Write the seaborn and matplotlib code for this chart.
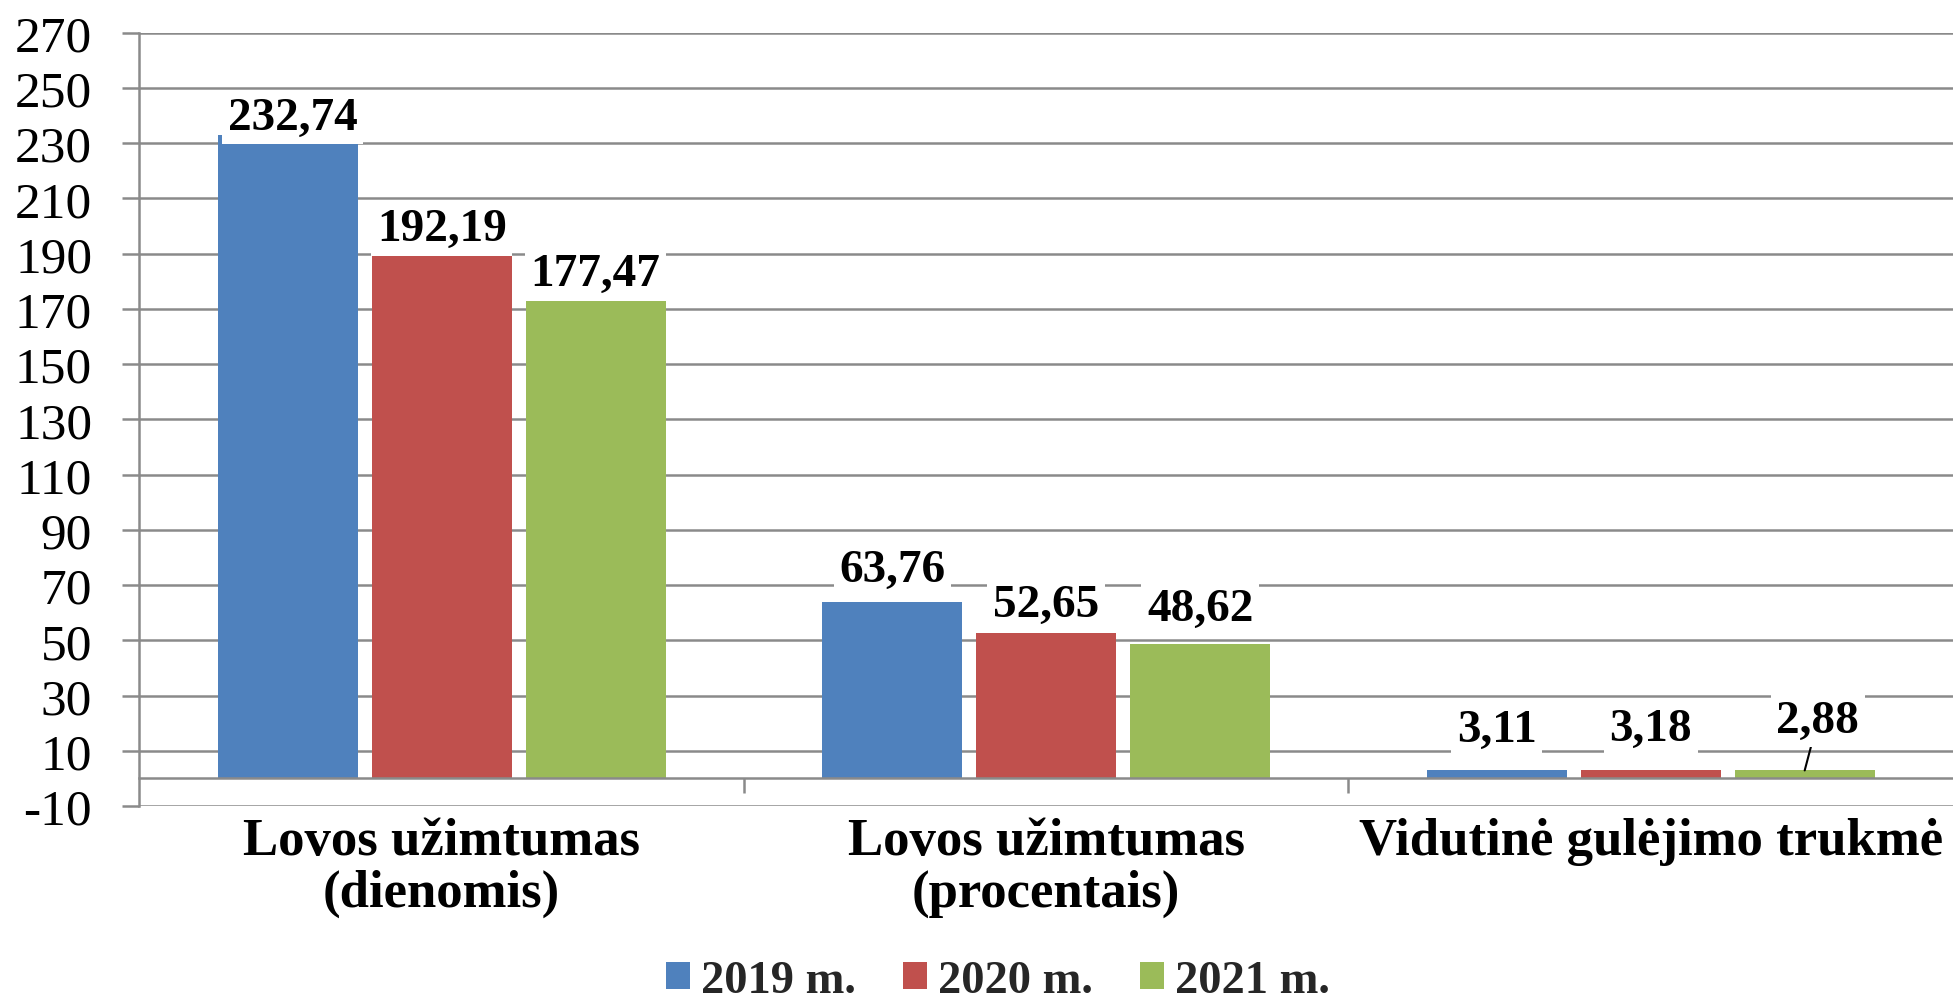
import matplotlib
matplotlib.use("Agg")
import matplotlib.pyplot as plt
import seaborn as sns
import pandas as pd

# ---- data ----
categories = ["Lovos užimtumas\n(dienomis)", "Lovos užimtumas\n(procentais)", "Vidutinė gulėjimo trukmė"]
years = ["2019 m.", "2020 m.", "2021 m."]
values_2019 = [232.74, 63.76, 3.11]
values_2020 = [192.19, 52.65, 3.18]
values_2021 = [177.47, 48.62, 2.88]
y_ticks = list(range(-10, 271, 20))

# ---- style ----
colors = ["#4F81BD", "#C0504D", "#9BBB59"]
grid_color = "#8a8a8a"
# label offsets in points (per year, per category)
label_dy = {"2019 m.": [12.7, 23.5, 29], "2020 m.": [13, 20, 29], "2021 m.": [10, 25.5, 36]}
label_dx = {"2019 m.": [3.5, 0, 0], "2020 m.": [0, 0, 0], "2021 m.": [0, 0, 9.5]}
leader = {("2021 m.", 2)}

rows = []
for yr, vals in zip(years, [values_2019, values_2020, values_2021]):
    for c, v in zip(categories, vals):
        rows.append({"category": c, "year": yr, "value": v})
df = pd.DataFrame(rows)

sns.set_theme(style="white")
plt.rcParams["font.family"] = ["Liberation Serif", "DejaVu Serif"]
plt.rcParams["axes.unicode_minus"] = False

fig = plt.figure(figsize=(19.53, 10.03), dpi=100)
ax = fig.add_axes([0.0714, 0.1954, 0.9286, 0.7712])

sns.barplot(data=df, x="category", y="value", hue="year", order=categories,
            hue_order=years, palette=colors, width=0.764, gap=0.09,
            errorbar=None, saturation=1, linewidth=0, ax=ax, zorder=2)

ax.set_xlim(-0.5, 2.5)
ax.set_ylim(-10, 270)
ax.set_yticks(y_ticks)
ax.grid(axis="y", color=grid_color, lw=1.8)
ax.grid(axis="x", visible=False)
ax.set_axisbelow(True)
ax.set_xlabel("")
ax.set_ylabel("")

for s in ["top", "right"]:
    ax.spines[s].set_visible(False)
ax.spines["left"].set_color(grid_color)
ax.spines["left"].set_linewidth(1.8)
ax.spines["bottom"].set_position(("data", 0))
ax.spines["bottom"].set_color(grid_color)
ax.spines["bottom"].set_linewidth(1.8)

ax.tick_params(axis="y", which="major", left=True, length=12, width=1.8,
               color=grid_color, pad=22, labelsize=37, direction="out", labelcolor="black")
ax.tick_params(axis="x", which="major", length=0, pad=28, labelsize=38, labelcolor="black")
ax.set_xticks([0.5, 1.5], minor=True)
ax.tick_params(axis="x", which="minor", bottom=True, length=11, width=1.8,
               color=grid_color, direction="out")
for lab in ax.get_xticklabels():
    lab.set_fontweight("bold")
    lab.set_linespacing(1.1)

# data labels
for cont, yr in zip(ax.containers, years):
    for i, p in enumerate(cont):
        v = p.get_height()
        x = p.get_x() + p.get_width() / 2
        txt = f"{v:.2f}".replace(".", ",")
        kw = {}
        if (yr, i) in leader:
            kw["arrowprops"] = dict(arrowstyle="-", color="black", lw=1.5,
                                    shrinkA=0, shrinkB=0)
        ax.annotate(txt, xy=(x, v), xytext=(label_dx[yr][i], label_dy[yr][i]),
                    textcoords="offset points", ha="center", va="center",
                    fontsize=34, fontweight="bold", color="black",
                    bbox=dict(boxstyle="square,pad=0.12", fc="white", ec="none"),
                    zorder=5, annotation_clip=False, **kw)

handles, labels = ax.get_legend_handles_labels()
if ax.get_legend() is not None:
    ax.get_legend().remove()
fig.legend(handles, labels, loc="center", bbox_to_anchor=(0.511, 0.021), ncol=3,
           frameon=False, prop=dict(weight="bold", size=33.5),
           handlelength=0.52, handleheight=0.52, handletextpad=0.24,
           columnspacing=1.0, borderpad=0)

fig.savefig("out.png", dpi=100)
